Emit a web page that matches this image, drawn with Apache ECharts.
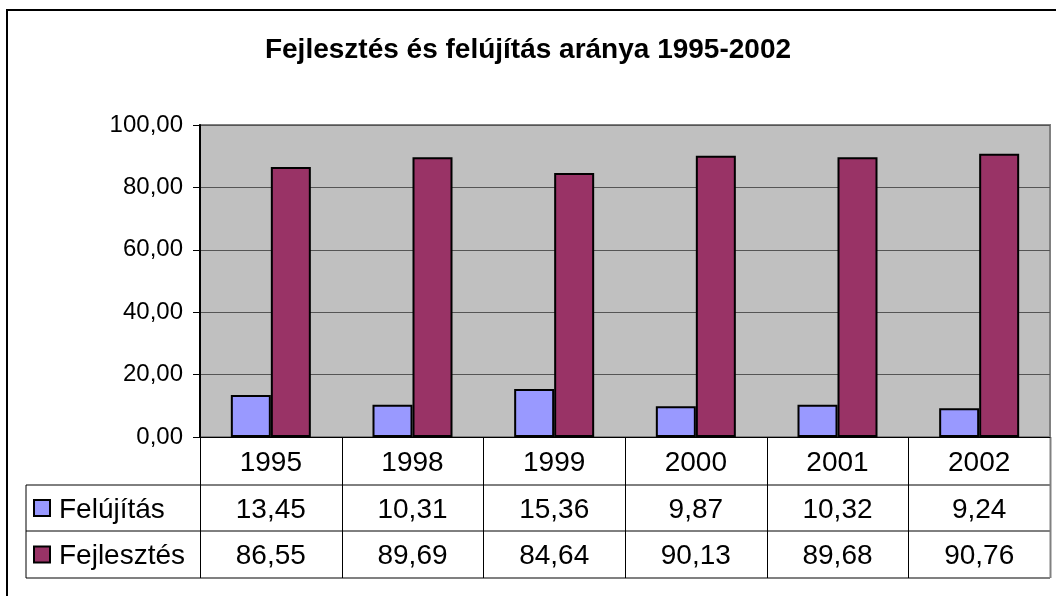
<!DOCTYPE html>
<html>
<head>
<meta charset="utf-8">
<title>Fejlesztés és felújítás aránya 1995-2002</title>
<script src="https://cdn.jsdelivr.net/npm/echarts@6/dist/echarts.min.js"></script>
<style>
html, body { margin: 0; padding: 0; background: #fff; }
#chart { width: 1056px; height: 596px; }
</style>
</head>
<body>
<div id="chart"></div>
<script>
var years = ["1995", "1998", "1999", "2000", "2001", "2002"];
var felujitas = [13.45, 10.31, 15.36, 9.87, 10.32, 9.24];
var fejlesztes = [86.55, 89.69, 84.64, 90.13, 89.68, 90.76];
var seriesNames = ["Felújítás", "Fejlesztés"];
var seriesColors = ["#9999ff", "#993366"];

var font = "'Liberation Sans', Arial, sans-serif";

function fmt(v) { return v.toFixed(2).replace(".", ","); }

var chart = echarts.init(document.getElementById("chart"));

var option = {
    animation: false,
    backgroundColor: "#fff",
    title: {
        text: "Fejlesztés és felújítás aránya 1995-2002",
        left: "center",
        top: 31,
        textStyle: { fontFamily: font, fontSize: 28, fontWeight: "bold", color: "#000" }
    },
    grid: {
        left: 200, right: 6, top: 125, bottom: 159,
        show: true, backgroundColor: "#c0c0c0", borderColor: "#808080", borderWidth: 2
    },
    xAxis: {
        type: "category",
        data: years,
        axisLine: { show: true, lineStyle: { color: "#000", width: 1 } },
        axisTick: { show: false },
        axisLabel: { fontFamily: font, fontSize: 28, color: "#000", margin: 12 }
    },
    yAxis: {
        type: "value",
        min: 0, max: 100, interval: 20,
        axisLine: { show: true, lineStyle: { color: "#000", width: 2 } },
        axisTick: { show: true, length: 7, lineStyle: { color: "#000" } },
        axisLabel: { fontFamily: font, fontSize: 24, color: "#000", margin: 17, formatter: fmt },
        splitLine: { lineStyle: { color: "#555", width: 1 } }
    },
    series: [
        { name: seriesNames[0], type: "bar", data: felujitas, barWidth: 40, barGap: "0%",
          itemStyle: { color: seriesColors[0], borderColor: "#000", borderWidth: 2 } },
        { name: seriesNames[1], type: "bar", data: fejlesztes, barWidth: 40, barGap: "0%",
          itemStyle: { color: seriesColors[1], borderColor: "#000", borderWidth: 2 } }
    ]
};
chart.setOption(option);

// data table under the plot, placed from the category axis
function buildTable() {
    var g = [];
    var left = 200, right = 1050, top = 437, r1 = 485, r2 = 531, bottom = 578, tableLeft = 26;
    var colW = (right - left) / years.length;
    var rows = [felujitas, fejlesztes];
    var rowMid = [(r1 + r2) / 2, (r2 + bottom) / 2];
    // outer frame of the whole chart
    g.push({ type: "polyline", shape: { points: [[7, 600], [7, 10], [1060, 10]] },
        style: { stroke: "#000", lineWidth: 2, fill: null }, silent: true });
    // horizontal rules
    g.push({ type: "line", shape: { x1: tableLeft, y1: r1, x2: right, y2: r1 }, style: { stroke: "#000", lineWidth: 1 } });
    g.push({ type: "line", shape: { x1: tableLeft, y1: r2, x2: right, y2: r2 }, style: { stroke: "#000", lineWidth: 1 } });
    g.push({ type: "line", shape: { x1: tableLeft, y1: bottom, x2: right, y2: bottom }, style: { stroke: "#808080", lineWidth: 2 } });
    g.push({ type: "line", shape: { x1: tableLeft, y1: r1, x2: tableLeft, y2: bottom }, style: { stroke: "#000", lineWidth: 1 } });
    for (var i = 0; i <= years.length; i++) {
        var x = Math.round(left + i * colW) + 0.5;
        g.push({ type: "line", shape: { x1: x, y1: top, x2: x, y2: bottom },
            style: { stroke: i == years.length ? "#808080" : "#000", lineWidth: i == years.length ? 2 : 1 } });
    }
    for (var s = 0; s < rows.length; s++) {
        g.push({ type: "rect", shape: { x: 34, y: rowMid[s] - 8, width: 16, height: 16 },
            style: { fill: seriesColors[s], stroke: "#000", lineWidth: 2 } });
        g.push({ type: "text", x: 59, y: rowMid[s] + 2,
            style: { text: seriesNames[s], font: "28px " + font, fill: "#000", verticalAlign: "middle" } });
        for (var c = 0; c < years.length; c++) {
            var cx = chart.convertToPixel({ xAxisIndex: 0 }, years[c]);
            g.push({ type: "text", x: cx, y: rowMid[s] + 2,
                style: { text: fmt(rows[s][c]), font: "28px " + font, fill: "#000", align: "center", verticalAlign: "middle" } });
        }
    }
    chart.setOption({ graphic: { elements: g } });
}
buildTable();
</script>
</body>
</html>
